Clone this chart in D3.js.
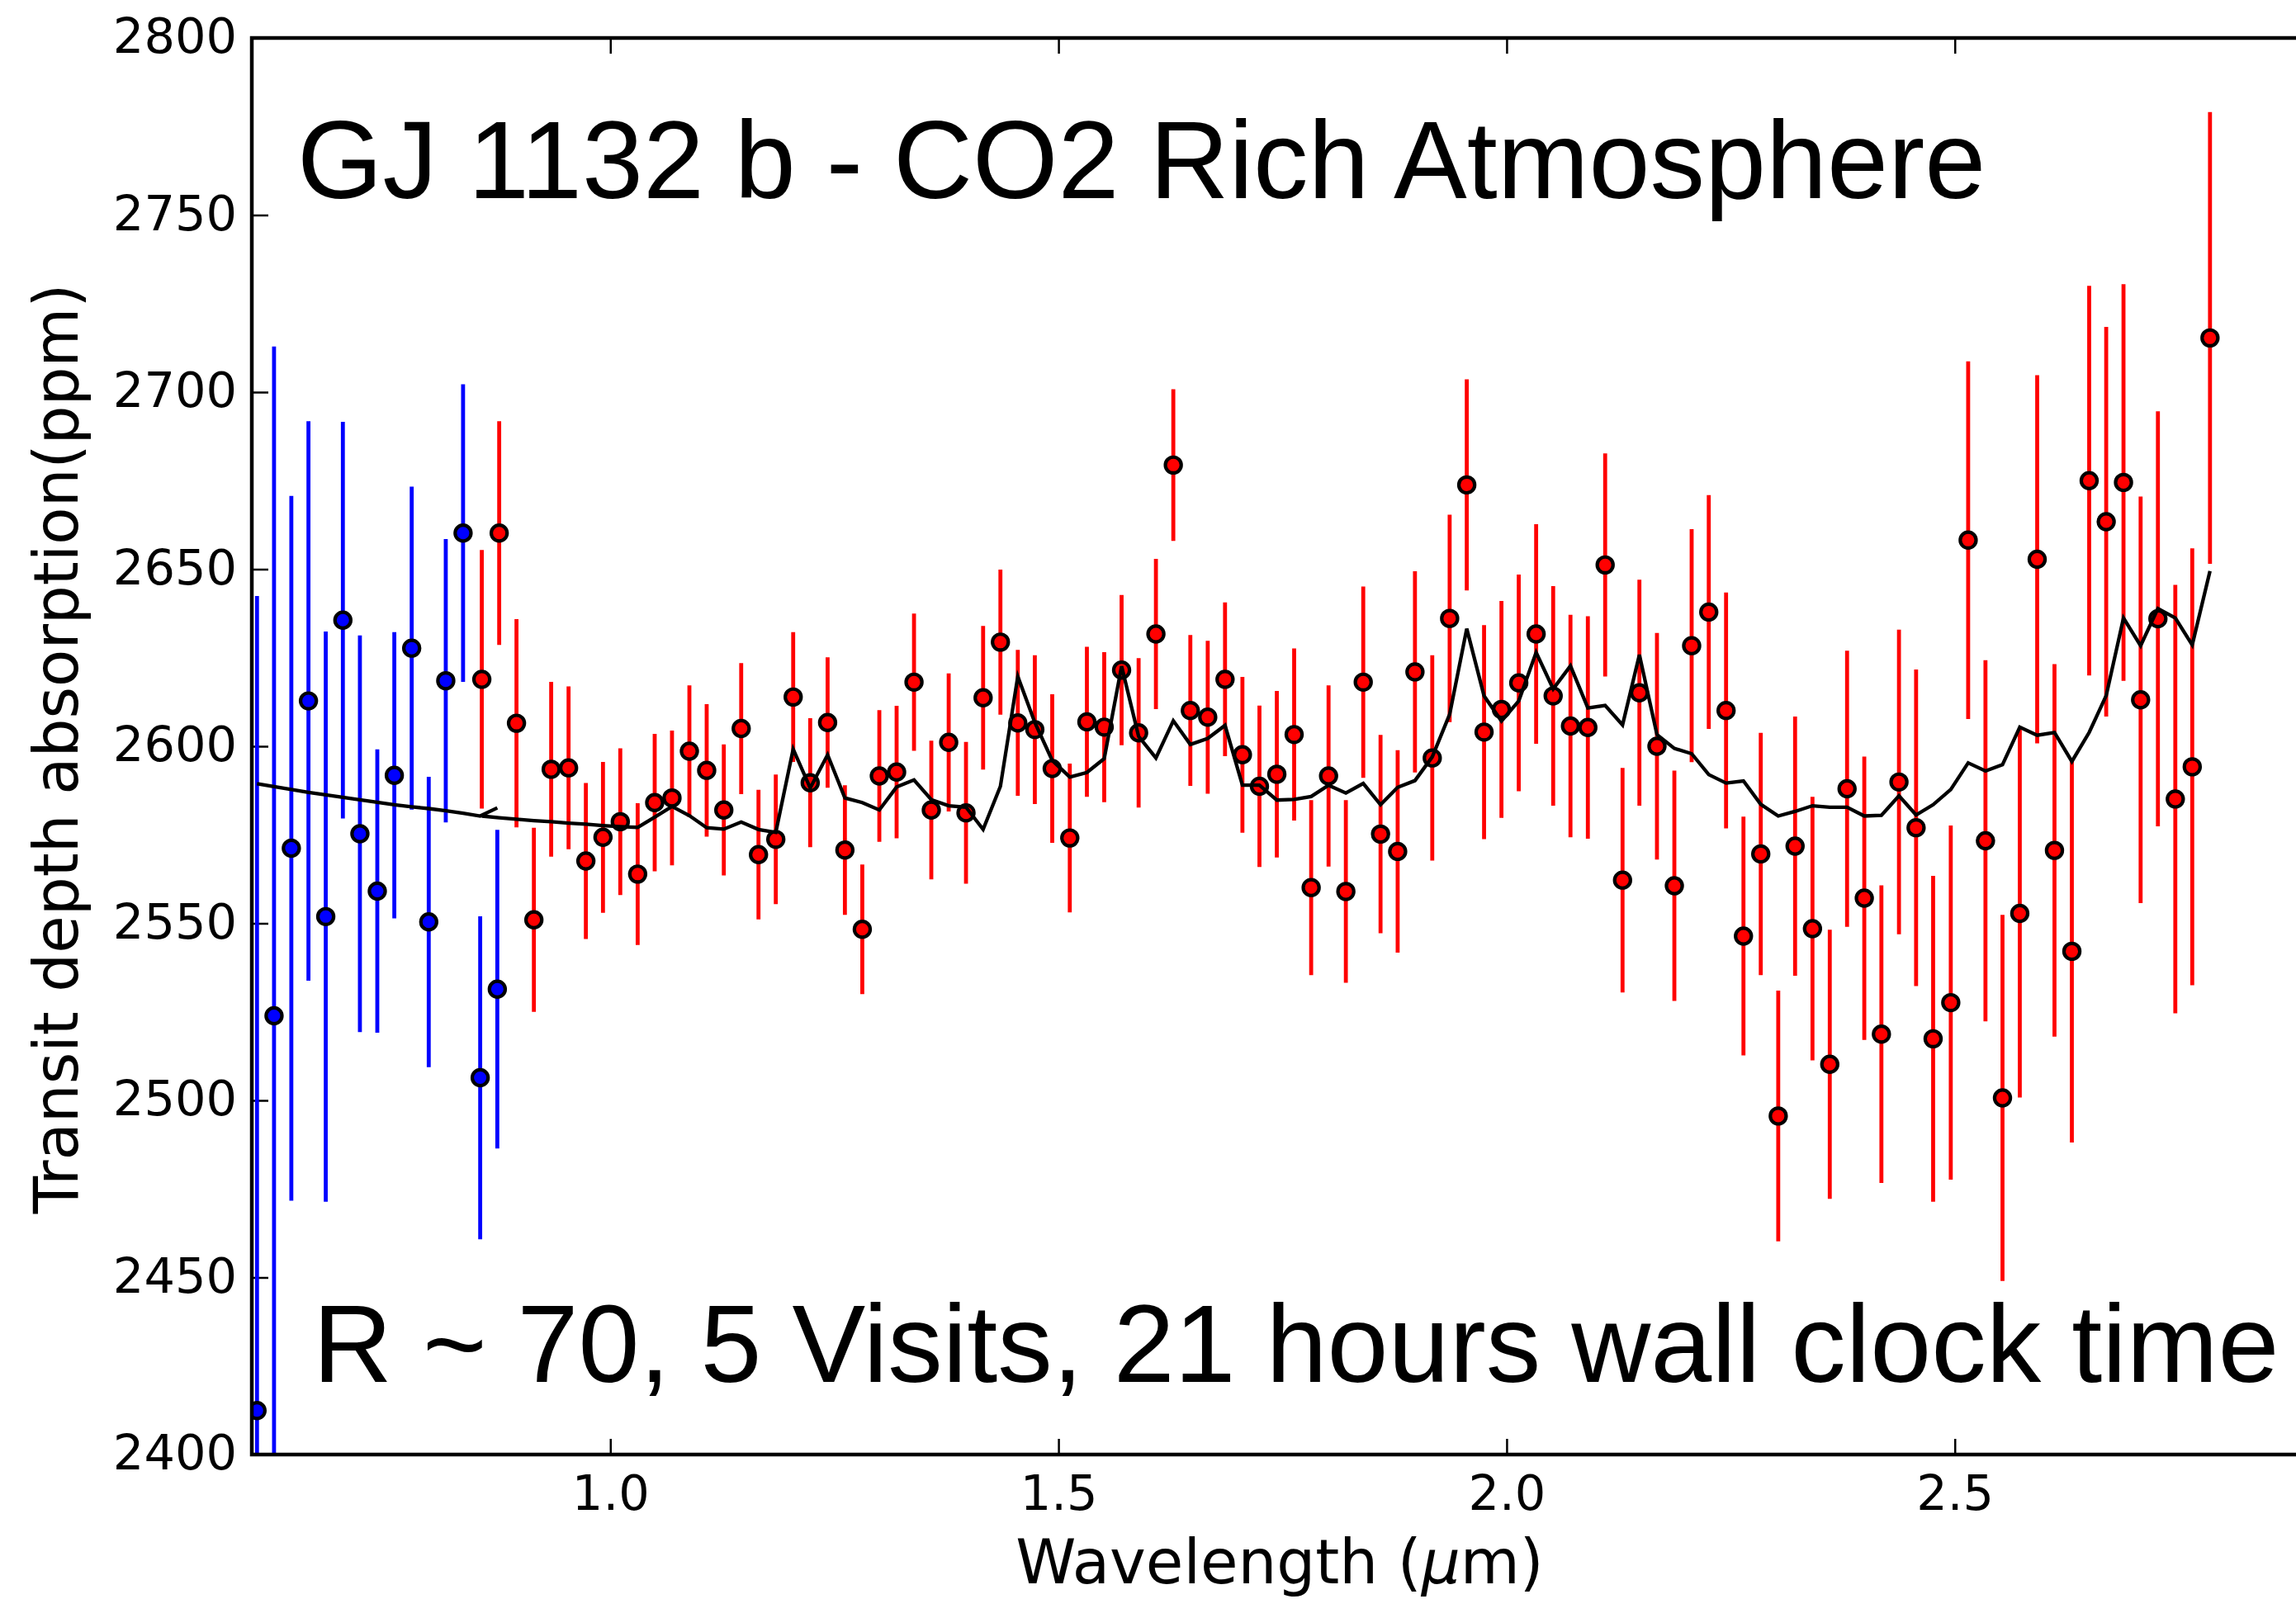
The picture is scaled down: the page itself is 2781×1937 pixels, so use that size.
<!DOCTYPE html>
<html>
<head>
<meta charset="utf-8">
<script src="https://cdn.jsdelivr.net/npm/d3@7"></script>
<style>
  html, body { margin: 0; padding: 0; background: #fff; }
  svg { display: block; }
</style>
</head>
<body>
<svg id="chart" width="2781" height="1937"></svg>
<script>
// Short-wavelength channel (blue)
const blueWave  = [0.6058, 0.6248, 0.6441, 0.6632, 0.6825, 0.7016, 0.7206, 0.7400, 0.7590, 0.7784, 0.7974, 0.8164, 0.8357, 0.8548, 0.8739];
const blueDepth = [2412.4, 2523.9, 2571.2, 2612.8, 2551.9, 2635.6, 2575.3, 2559.1, 2591.8, 2627.7, 2550.4, 2618.5, 2660.2, 2506.4, 2531.4];
const blueErr   = [230, 189, 99.5, 79, 80.5, 56, 56, 40, 40.4, 45.6, 41, 40, 42, 45.6, 45];
const blueModel = [2589.4, 2588.6, 2587.8, 2587.0, 2586.3, 2585.6, 2584.9, 2584.2, 2583.5, 2582.9, 2582.4, 2581.8, 2581.1, 2580.3, 2582.6];

// Long-wavelength channel (red)
const redWave = [
  0.8566, 0.8760, 0.8953, 0.9147, 0.9340, 0.9534, 0.9727, 0.9918, 1.0111, 1.0305,
  1.0495, 1.0688, 1.0882, 1.1075, 1.1266, 1.1460, 1.1653, 1.1846, 1.2040, 1.2230,
  1.2424, 1.2617, 1.2811, 1.3001, 1.3194, 1.3388, 1.3581, 1.3775, 1.3968, 1.4159,
  1.4352, 1.4546, 1.4736, 1.4930, 1.5126, 1.5317, 1.5510, 1.5704, 1.5894, 1.6087,
  1.6281, 1.6471, 1.6665, 1.6858, 1.7052, 1.7242, 1.7436, 1.7629, 1.7819, 1.8013,
  1.8206, 1.8400, 1.8593, 1.8784, 1.8977, 1.9170, 1.9364, 1.9555, 1.9748, 1.9942,
  2.0135, 2.0329, 2.0519, 2.0712, 2.0906, 2.1099, 2.1293, 2.1481, 2.1677, 2.1871,
  2.2064, 2.2255, 2.2448, 2.2642, 2.2835, 2.3030, 2.3218, 2.3412, 2.3605, 2.3798,
  2.3990, 2.4181, 2.4377, 2.4568, 2.4758, 2.4955, 2.5149, 2.5342, 2.5532, 2.5725,
  2.5919, 2.6112, 2.6306, 2.6499, 2.6689, 2.6882, 2.7073, 2.7266, 2.7460, 2.7649,
  2.7847
];
const redDepth = [
  2618.9, 2660.2, 2606.5, 2551.0, 2593.5, 2593.9, 2567.6, 2574.3, 2578.7, 2563.9,
  2584.1, 2585.4, 2598.6, 2593.2, 2582.0, 2605.0, 2569.4, 2573.7, 2613.9, 2589.7,
  2606.7, 2570.7, 2548.3, 2591.6, 2592.7, 2618.1, 2582.0, 2601.1, 2581.2, 2613.7,
  2629.4, 2606.6, 2604.7, 2593.7, 2574.1, 2606.9, 2605.4, 2621.5, 2603.8, 2631.7,
  2679.4, 2610.1, 2608.2, 2618.9, 2597.6, 2588.7, 2592.1, 2603.3, 2560.1, 2591.6,
  2559.0, 2618.1, 2575.2, 2570.3, 2621.0, 2596.7, 2636.1, 2673.8, 2604.0, 2610.4,
  2617.9, 2631.7, 2614.2, 2605.7, 2605.3, 2651.2, 2562.2, 2615.1, 2600.0, 2560.6,
  2628.4, 2637.9, 2610.1, 2546.4, 2569.6, 2495.6, 2571.8, 2548.5, 2510.2, 2588.0,
  2557.1, 2518.7, 2589.9, 2577.0, 2517.4, 2527.6, 2658.2, 2573.3, 2500.7, 2552.8,
  2652.8, 2570.6, 2542.1, 2675.0, 2663.4, 2674.5, 2613.1, 2636.0, 2585.1, 2594.2,
  2715.3
];
const redErr = [
  36.5, 31.6, 29.4, 26.0, 24.7, 23.0, 22.0, 21.3, 20.7, 20.0,
  19.4, 19.0, 18.6, 18.7, 18.5, 18.5, 18.3, 18.3, 18.3, 18.2,
  18.4, 18.3, 18.3, 18.6, 18.7, 19.4, 19.6, 19.5, 20.0, 20.3,
  20.5, 20.6, 21.0, 21.0, 21.0, 21.2, 21.2, 21.2, 21.1, 21.2,
  21.4, 21.3, 21.6, 21.7, 22.0, 22.8, 23.5, 24.3, 24.7, 25.6,
  25.8, 27.0, 28.0, 28.6, 28.4, 29.0, 29.3, 29.8, 30.2, 30.6,
  30.6, 31.0, 31.0, 31.4, 31.4, 31.5, 31.7, 31.9, 32.0, 32.5,
  32.9, 33.0, 33.3, 33.7, 34.2, 35.4, 36.6, 37.2, 38.0, 39.0,
  40.0, 42.0, 43.0, 44.7, 46.0, 50.0, 50.5, 51.0, 51.7, 52.0,
  52.0, 52.6, 54.0, 55.0, 55.0, 56.0, 57.4, 58.6, 60.5, 61.7,
  63.8
];
const redModel = [
  2580.3, 2579.8, 2579.4, 2579.0, 2578.7, 2578.3, 2578.0, 2577.6, 2577.3, 2577.1,
  2580.0, 2583.0, 2580.4, 2577.0, 2576.6, 2578.6, 2576.5, 2575.7, 2599.2, 2588.2,
  2597.6, 2585.4, 2584.1, 2582.0, 2588.5, 2590.5, 2584.9, 2583.2, 2582.8, 2576.5,
  2588.7, 2619.7, 2606.7, 2596.0, 2591.3, 2592.6, 2596.5, 2622.6, 2602.8, 2596.7,
  2607.2, 2600.5, 2602.2, 2605.9, 2589.0, 2589.0, 2584.8, 2585.0, 2585.8, 2589.0,
  2586.8, 2589.5, 2583.5, 2588.4, 2590.3, 2597.0, 2609.0, 2633.2, 2614.2, 2607.1,
  2612.8, 2626.5, 2616.2, 2622.7, 2610.8, 2611.5, 2606.0, 2625.8, 2603.3, 2599.4,
  2597.9, 2592.0, 2589.6, 2590.2, 2583.6, 2580.3, 2581.6, 2583.2, 2582.8, 2582.8,
  2580.3, 2580.5, 2586.0, 2580.6, 2583.5, 2587.8, 2595.3, 2593.0, 2594.8, 2605.4,
  2603.1, 2603.9, 2595.7, 2603.9, 2614.3, 2636.2, 2628.4, 2638.9, 2636.2, 2628.6,
  2649.5
];

const xTicks = [1.0, 1.5, 2.0, 2.5];
const yTicks = [2400, 2450, 2500, 2550, 2600, 2650, 2700, 2750, 2800];

const titleText = "GJ 1132 b - CO2 Rich Atmosphere";
const noteText = "R ~ 70, 5 Visits, 21 hours wall clock time";

// Plot frame (the right edge sits just past the canvas)
const plotLeft = 305, plotRight = 2802, plotTop = 46, plotBottom = 1762;
const svg = d3.select("#chart");

const x = d3.scaleLinear().domain([0.6, 2.9]).range([plotLeft, plotRight]);
const y = d3.scaleLinear().domain([2400, 2800]).range([plotBottom, plotTop]);

svg.append("defs").append("clipPath").attr("id", "plotArea")
  .append("rect").attr("x", plotLeft).attr("y", plotTop)
  .attr("width", plotRight - plotLeft).attr("height", plotBottom - plotTop);

const tickFont = "'DejaVu Sans', 'Bitstream Vera Sans', sans-serif";

// Axes (ticks point inward on all four sides)
function styleAxis(g) {
  g.select(".domain").remove();
  g.selectAll(".tick line").attr("stroke", "#000").attr("stroke-width", 2.5);
  g.selectAll(".tick text").attr("font-family", tickFont).attr("font-size", 59).attr("fill", "#000");
}

svg.append("g").attr("transform", `translate(${plotLeft},0)`)
  .call(d3.axisLeft(y).tickValues(yTicks).tickFormat(d3.format("d"))
    .tickSizeInner(-20).tickSizeOuter(0).tickPadding(18))
  .call(styleAxis)
  .call(g => g.selectAll(".tick text").attr("dy", "0.3em"));

svg.append("g").attr("transform", `translate(${plotRight},0)`)
  .call(d3.axisRight(y).tickValues(yTicks).tickFormat("")
    .tickSizeInner(-20).tickSizeOuter(0))
  .call(styleAxis);

svg.append("g").attr("transform", `translate(0,${plotBottom})`)
  .call(d3.axisBottom(x).tickValues(xTicks).tickFormat(d3.format(".1f"))
    .tickSizeInner(-19).tickSizeOuter(0).tickPadding(25))
  .call(styleAxis);

svg.append("g").attr("transform", `translate(0,${plotTop})`)
  .call(d3.axisTop(x).tickValues(xTicks).tickFormat("")
    .tickSizeInner(-19).tickSizeOuter(0))
  .call(styleAxis);

// Data layer
const plot = svg.append("g").attr("clip-path", "url(#plotArea)");

function drawSeries(waves, depths, errs, color) {
  const pts = waves.map((w, i) => ({ w, d: depths[i], e: errs[i] }));
  plot.append("g").selectAll("line").data(pts).join("line")
    .attr("x1", p => x(p.w)).attr("x2", p => x(p.w))
    .attr("y1", p => y(p.d - p.e)).attr("y2", p => y(p.d + p.e))
    .attr("stroke", color).attr("stroke-width", 4.8);
  plot.append("g").selectAll("circle").data(pts).join("circle")
    .attr("cx", p => x(p.w)).attr("cy", p => y(p.d))
    .attr("r", 9.6).attr("fill", color)
    .attr("stroke", "#000").attr("stroke-width", 4.2);
}

drawSeries(blueWave, blueDepth, blueErr, "#0000ff");
drawSeries(redWave, redDepth, redErr, "#ff0000");

// Model spectra
const modelLine = d3.line().x(p => x(p[0])).y(p => y(p[1]));
plot.append("path")
  .attr("d", modelLine(blueWave.map((w, i) => [w, blueModel[i]])))
  .attr("fill", "none").attr("stroke", "#000").attr("stroke-width", 4.3);
plot.append("path")
  .attr("d", modelLine(redWave.map((w, i) => [w, redModel[i]])))
  .attr("fill", "none").attr("stroke", "#000").attr("stroke-width", 4.3);

// Frame
svg.append("rect")
  .attr("x", plotLeft).attr("y", plotTop)
  .attr("width", plotRight - plotLeft).attr("height", plotBottom - plotTop)
  .attr("fill", "none").attr("stroke", "#000").attr("stroke-width", 4.5);

// Annotations
const annoFont = "'Liberation Sans', Arial, Helvetica, sans-serif";
svg.append("text")
  .attr("x", 360).attr("y", 240)
  .attr("font-family", annoFont).attr("font-size", 133)
  .text(titleText);
svg.append("text")
  .attr("x", 379).attr("y", 1674)
  .attr("font-family", annoFont).attr("font-size", 133)
  .text(noteText);

// Axis titles
const xLabel = svg.append("text")
  .attr("x", 1550).attr("y", 1918)
  .attr("text-anchor", "middle")
  .attr("font-family", tickFont).attr("font-size", 74);
xLabel.append("tspan").text("Wavelength (");
xLabel.append("tspan").attr("font-style", "italic").text("\u03bc");
xLabel.append("tspan").text("m)");

svg.append("text")
  .attr("transform", "translate(94,907) rotate(-90)")
  .attr("text-anchor", "middle")
  .attr("font-family", tickFont).attr("font-size", 74)
  .text("Transit depth absorption(ppm)");
</script>
</body>
</html>
